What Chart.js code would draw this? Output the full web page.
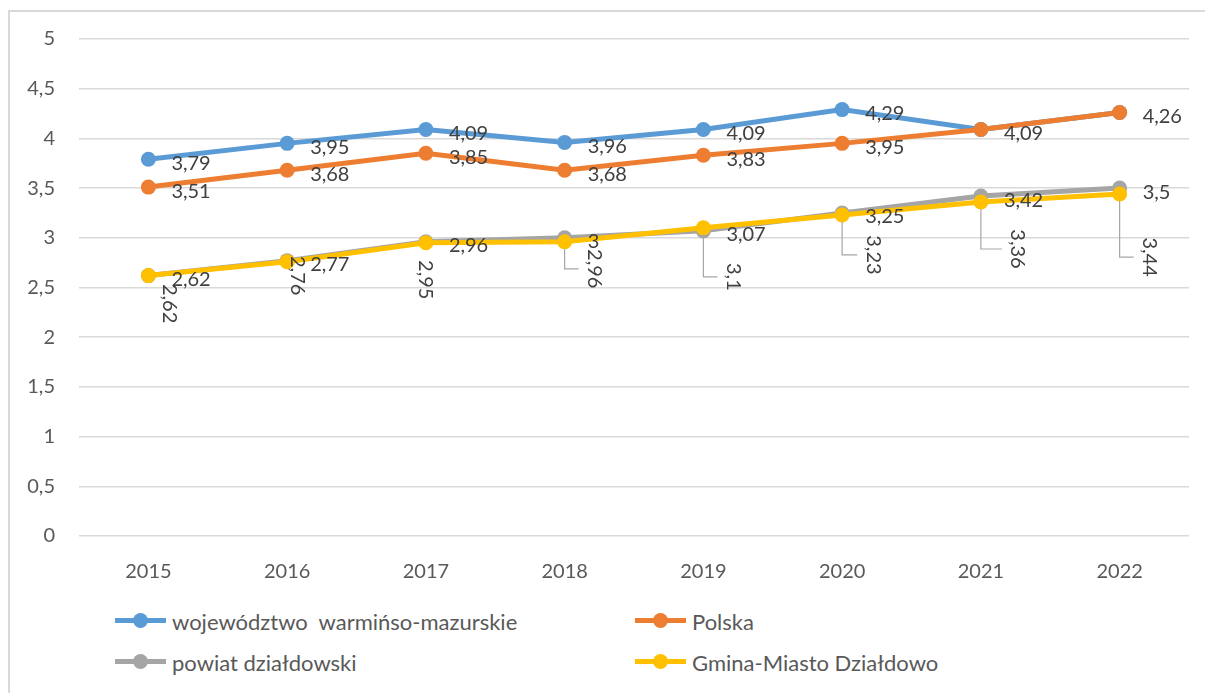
<!DOCTYPE html>
<html lang="pl">
<head>
<meta charset="utf-8">
<title>Wykres</title>
<script src="https://cdn.jsdelivr.net/npm/chart.js@4.4.1/dist/chart.umd.min.js"></script>
<style>
  html, body { margin: 0; padding: 0; background: #fff; overflow: hidden; }
  body { width: 1205px; height: 693px; position: relative; font-family: Lato, "Open Sans", sans-serif; }
  .frame { position: absolute; left: 8px; top: 10px; width: 1210px; height: 700px; border: 2px solid #d9d9d9; box-sizing: border-box; }
  .chart-wrap { position: absolute; left: 0; top: 0; width: 1205px; height: 595px; }
  .legend-item { position: absolute; height: 22px; display: flex; align-items: center; font-size: 22px; color: #595959; white-space: pre; }
  .legend-item .sample { position: relative; width: 51px; height: 22px; margin-right: 6px; }
  .legend-item .sample .ln { position: absolute; left: 0; right: 0; top: 8px; height: 5px; }
  .legend-item .sample .dot { position: absolute; left: 18px; top: 3px; width: 15px; height: 15px; border-radius: 50%; }
</style>
</head>
<body>
<div class="frame"></div>
<div class="chart-wrap"><canvas id="chart"></canvas></div>
<div id="legend"></div>
<script>
'use strict';

/* dane */
const YEARS = ['2015', '2016', '2017', '2018', '2019', '2020', '2021', '2022'];
const WOJEWODZTWO = [3.79, 3.95, 4.09, 3.96, 4.09, 4.29, 4.09, 4.26];
const POLSKA = [3.51, 3.68, 3.85, 3.68, 3.83, 3.95, 4.09, 4.26];
const POWIAT = [2.62, 2.77, 2.96, 3, 3.07, 3.25, 3.42, 3.5];
const GMINA = [2.62, 2.76, 2.95, 2.96, 3.1, 3.23, 3.36, 3.44];
const SERIES_NAMES = ['województwo  warmińso-mazurskie', 'Polska', 'powiat działdowski', 'Gmina-Miasto Działdowo'];

const C_BLUE = '#5b9bd5';
const C_ORANGE = '#ed7d31';
const C_GRAY = '#a5a5a5';
const C_YELLOW = '#ffc000';
const FONT = 'Lato, "Open Sans", sans-serif';

/* pionowe etykiety serii Gmina: przesunięcie środka etykiety względem punktu [dx, dy, linia odniesienia] */
const GMINA_LABEL_POS = [
  [21, 28, false], [10, 14, false], [0, 37, false], [30, 27, true],
  [30, 49, true], [31, 40, true], [37, 47, true], [30, 63, true],
];

const fmt = (v) => String(v).replace('.', ',');

function ds(label, data, color, order) {
  return {
    label, data, order,
    borderColor: color,
    backgroundColor: color,
    pointBackgroundColor: color,
    pointBorderWidth: 0,
    pointRadius: 7.5,
    pointHoverRadius: 7.5,
    borderWidth: 5,
    tension: 0,
  };
}

/* etykiety danych jak w Excelu */
const dataLabels = {
  id: 'dataLabels',
  afterDatasetsDraw(chart) {
    const ctx = chart.ctx;
    const sets = chart.data.datasets;
    ctx.save();
    ctx.font = `20px ${FONT}`;
    ctx.fillStyle = '#404040';
    [0, 1, 2].forEach((di) => {
      const meta = chart.getDatasetMeta(di);
      const data = sets[di].data;
      meta.data.forEach((pt, i) => {
        // ta sama wartość w następnej serii -> etykiety się nakrywają, rysuj raz
        if (di === 0 && data[i] === sets[1].data[i]) return;
        ctx.textAlign = 'left';
        ctx.textBaseline = 'middle';
        ctx.fillText(fmt(data[i]), pt.x + 23, pt.y + 4);
      });
    });
    const meta = chart.getDatasetMeta(3);
    const data = sets[3].data;
    meta.data.forEach((pt, i) => {
      const [dx, dy, leader] = GMINA_LABEL_POS[i];
      const cx = pt.x + dx;
      const cy = pt.y + dy;
      if (leader) {
        ctx.strokeStyle = '#a6a6a6';
        ctx.lineWidth = 1.2;
        ctx.beginPath();
        ctx.moveTo(pt.x, pt.y + 7);
        ctx.lineTo(pt.x, cy);
        ctx.lineTo(cx - 16, cy);
        ctx.stroke();
      }
      ctx.save();
      ctx.translate(cx, cy);
      ctx.rotate(Math.PI / 2);
      ctx.textAlign = 'center';
      ctx.textBaseline = 'middle';
      ctx.fillStyle = '#404040';
      ctx.fillText(fmt(data[i]), 0, 0);
      ctx.restore();
    });
    ctx.restore();
  },
};

Chart.defaults.font.family = FONT;
Chart.defaults.font.size = 20;
Chart.defaults.color = '#595959';

new Chart(document.getElementById('chart'), {
  type: 'line',
  data: {
    labels: YEARS,
    datasets: [
      ds(SERIES_NAMES[0], WOJEWODZTWO, C_BLUE, 3),
      ds(SERIES_NAMES[1], POLSKA, C_ORANGE, 2),
      ds(SERIES_NAMES[2], POWIAT, C_GRAY, 1),
      ds(SERIES_NAMES[3], GMINA, C_YELLOW, 0),
    ],
  },
  options: {
    responsive: true,
    maintainAspectRatio: false,
    animation: false,
    events: [],
    layout: { padding: { left: 0, right: 16, top: 39, bottom: 0 } },
    plugins: { legend: { display: false }, tooltip: { enabled: false } },
    scales: {
      x: {
        offset: true,
        grid: { display: false },
        border: { display: false },
        ticks: { padding: 16, color: '#595959', font: { size: 20 } },
        afterFit: (s) => { s.height = 59; },
      },
      y: {
        min: 0,
        max: 5,
        ticks: { stepSize: 0.5, padding: 24, color: '#595959', font: { size: 20 }, callback: (v) => fmt(v) },
        grid: { color: '#d9d9d9', lineWidth: 1.6, drawTicks: false },
        border: { display: false },
        afterFit: (s) => { s.width = 79; },
      },
    },
  },
  plugins: [dataLabels],
});

/* legenda */
const LEGEND_POS = [[115, 621], [635, 621], [115, 662], [635, 662]];
const LEGEND_COLORS = [C_BLUE, C_ORANGE, C_GRAY, C_YELLOW];
const legend = document.getElementById('legend');
SERIES_NAMES.forEach((name, i) => {
  const el = document.createElement('div');
  el.className = 'legend-item';
  el.style.left = LEGEND_POS[i][0] + 'px';
  el.style.top = (LEGEND_POS[i][1] - 11) + 'px';
  el.innerHTML = `<span class="sample"><span class="ln" style="background:${LEGEND_COLORS[i]}"></span><span class="dot" style="background:${LEGEND_COLORS[i]}"></span></span><span class="txt"></span>`;
  el.querySelector('.txt').textContent = name;
  legend.appendChild(el);
});
</script>
</body>
</html>
